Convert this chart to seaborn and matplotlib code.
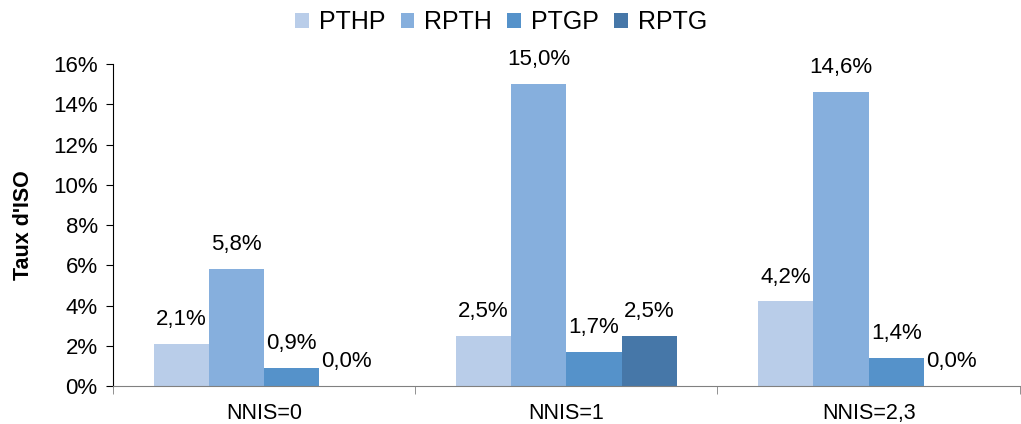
import pandas as pd
import matplotlib.pyplot as plt
import seaborn as sns

# Data
groups = ["NNIS=0", "NNIS=1", "NNIS=2,3"]
series = ["PTHP", "RPTH", "PTGP", "RPTG"]
pthp = [2.1, 2.5, 4.2]
rpth = [5.8, 15.0, 14.6]
ptgp = [0.9, 1.7, 1.4]
rptg = [0.0, 2.5, 0.0]

colors = ["#B9CDE9", "#86AFDD", "#5592CA", "#4677A8"]

rows = []
for name, vals in zip(series, [pthp, rpth, ptgp, rptg]):
    for g, v in zip(groups, vals):
        rows.append({"group": g, "serie": name, "value": v})
df = pd.DataFrame(rows)

sns.set_style("white")
plt.rcParams["font.family"] = ["Liberation Sans", "DejaVu Sans"]
plt.rcParams["text.color"] = "black"
plt.rcParams["axes.labelcolor"] = "black"
plt.rcParams["xtick.color"] = "black"
plt.rcParams["ytick.color"] = "black"

fig = plt.figure(figsize=(10.21, 4.24), dpi=100)
ax = fig.add_axes([0.1107, 0.0896, 0.888, 0.7594])

sns.barplot(data=df, x="group", y="value", hue="serie", palette=colors,
            width=0.73, gap=0, saturation=1, linewidth=0, ax=ax, legend=True)

# value labels
for cont in ax.containers:
    labels = [f"{b.get_height():.1f}%".replace(".", ",") for b in cont]
    ax.bar_label(cont, labels=labels, padding=10, fontsize=16)

ax.set_ylim(0, 16)
ax.set_xlim(-0.5, 2.5)
ax.set_yticks(range(0, 17, 2))
ax.set_yticklabels([f"{v}%" for v in range(0, 17, 2)], fontsize=16)
ax.tick_params(axis="x", which="major", length=0, labelsize=15.5, pad=12)
ax.set_xticks([-0.5, 0.5, 1.5, 2.5], minor=True)
ax.tick_params(axis="x", which="minor", length=6, color="#808080", direction="out", bottom=True)
ax.tick_params(axis="y", length=5, direction="out", left=True, color="black", pad=6)
ax.set_xlabel("")
ax.set_ylabel("Taux d'ISO", fontsize=15.5, fontweight="bold", labelpad=0)
ax.yaxis.set_label_coords(-0.087, 0.5)

for s in ["top", "right"]:
    ax.spines[s].set_visible(False)
ax.spines["left"].set_color("black")
ax.spines["bottom"].set_color("#808080")

handles, labels = ax.get_legend_handles_labels()
ax.legend(handles, labels, loc="center", bbox_to_anchor=(0.428, 1.13), ncol=4,
          frameon=False, fontsize=18, handlelength=0.55, handleheight=0.55,
          handletextpad=0.4, columnspacing=0.6)

fig.savefig("out.png", dpi=100)
